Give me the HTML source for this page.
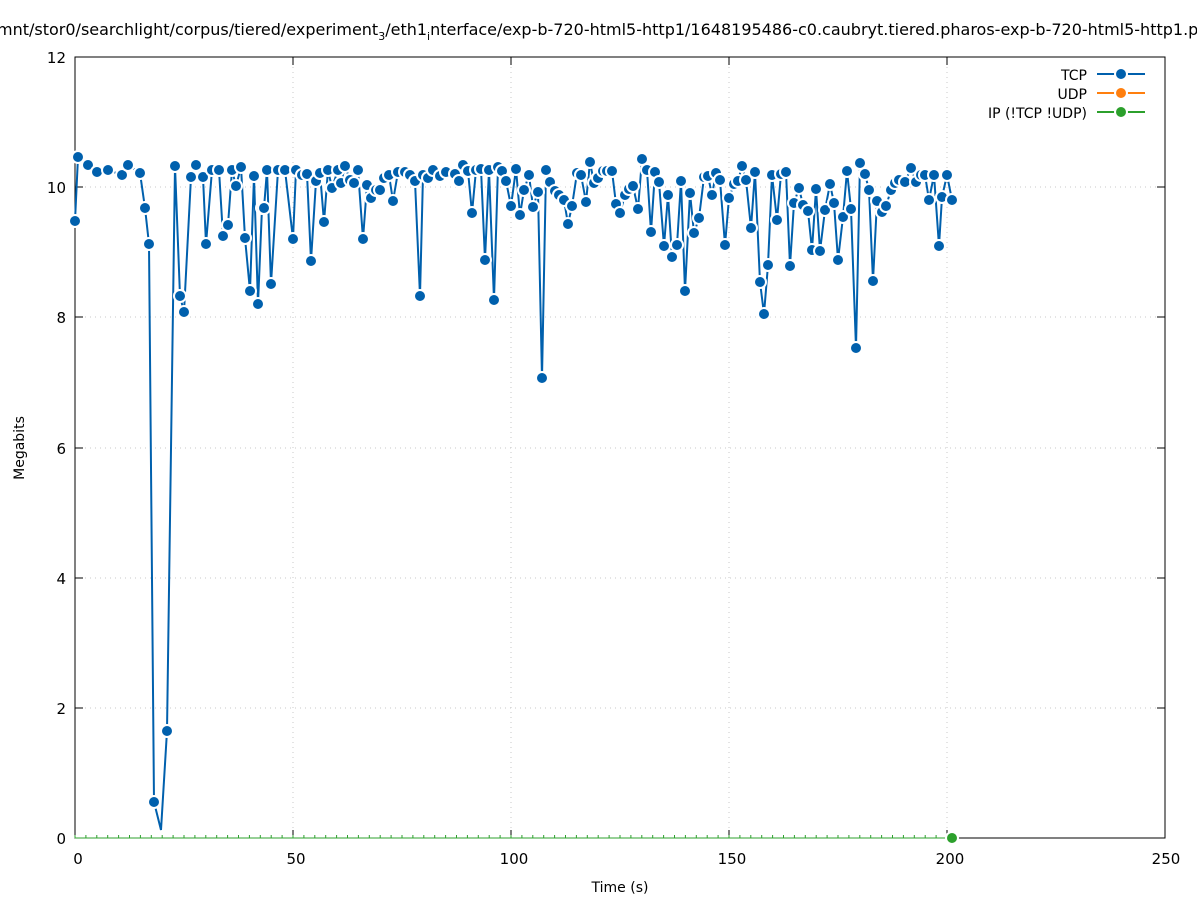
<!DOCTYPE html>
<html><head><meta charset="utf-8"><style>
html,body{margin:0;padding:0;background:#fff;}
svg{display:block;font-family:"DejaVu Sans","Liberation Sans",sans-serif;}
</style></head><body>
<svg id="s" width="1197" height="900" viewBox="0 0 1197 900" xmlns="http://www.w3.org/2000/svg">
<rect width="1197" height="900" fill="#fff"/>
<g stroke="#c8c8c8" stroke-width="1" stroke-dasharray="1,4">
<line x1="75" y1="708" x2="1165" y2="708"/><line x1="75" y1="578" x2="1165" y2="578"/>
<line x1="75" y1="448" x2="1165" y2="448"/><line x1="75" y1="317" x2="1165" y2="317"/>
<line x1="75" y1="187" x2="1165" y2="187"/>
<line x1="293" y1="57" x2="293" y2="838"/><line x1="511" y1="57" x2="511" y2="838"/>
<line x1="729" y1="57" x2="729" y2="838"/><line x1="947" y1="57" x2="947" y2="838"/>
</g>
<rect x="75" y="57" width="1090" height="781" fill="none" stroke="#000" stroke-width="1"/>
<g stroke="#000" stroke-width="1">
<path d="M75 838h8M75 708h8M75 578h8M75 448h8M75 317h8M75 187h8M75 57h8M1165 838h-8M1165 708h-8M1165 578h-8M1165 448h-8M1165 317h-8M1165 187h-8M1165 57h-8"/>
<path d="M293 838v-8M511 838v-8M729 838v-8M947 838v-8M293 57v8M511 57v8M729 57v8M947 57v8"/>
</g>
<g font-size="15" fill="#000" text-anchor="end">
<text x="66" y="844">0</text><text x="66" y="714">2</text><text x="66" y="584">4</text>
<text x="66" y="454">6</text><text x="66" y="323">8</text><text x="66" y="193">10</text><text x="66" y="63">12</text>
</g>
<g font-size="15" fill="#000" text-anchor="middle">
<text x="78" y="864">0</text><text x="296" y="864">50</text><text x="514" y="864">100</text>
<text x="732" y="864">150</text><text x="950" y="864">200</text><text x="1166" y="864">250</text>
<text x="620" y="892" font-size="14">Time (s)</text>
</g>
<text x="0" y="0" font-size="14" transform="translate(24,448) rotate(-90)" text-anchor="middle">Megabits</text>
<text x="-3" y="35" font-size="16">mnt/stor0/searchlight/corpus/tiered/experiment<tspan font-size="11" dy="5">3</tspan><tspan dy="-5">/eth1</tspan><tspan font-size="11" dy="5">i</tspan><tspan dy="-5">nterface/exp-b-720-html5-http1/1648195486-c0.caubryt.tiered.pharos-exp-b-720-html5-http1.pcap</tspan></text>
<g id="gticks" stroke="#2ca02c" stroke-width="1"></g>
<g font-size="14" text-anchor="end">
<text x="1087" y="80">TCP</text><text x="1087" y="99">UDP</text><text x="1087" y="118">IP (!TCP  !UDP)</text>
</g>
<g stroke-width="2">
<line x1="1097" y1="74" x2="1145" y2="74" stroke="#0060ad"/>
<line x1="1097" y1="93" x2="1145" y2="93" stroke="#ff7f0e"/>
<line x1="1097" y1="112" x2="1145" y2="112" stroke="#2ca02c"/>
</g>
<circle cx="1121" cy="74" r="6" fill="#0060ad" stroke="#fff" stroke-width="2"/>
<circle cx="1121" cy="93" r="6" fill="#ff7f0e" stroke="#fff" stroke-width="2"/>
<circle cx="1121" cy="112" r="6" fill="#2ca02c" stroke="#fff" stroke-width="2"/>
<g id="series"></g>
<circle cx="952" cy="838" r="6" fill="#2ca02c" stroke="#fff" stroke-width="2"/>
</svg>
<script>
var P=[[75,221],[78,157],[88,165],[97,172],[108,170],[122,175],[128,165],[140,173],[145,208],[149,244],[154,802],[161,830],[167,731],[175,166],[180,296],[184,312],[191,177],[196,165],[203,177],[206,244],[212,170],[219,170],[223,236],[228,225],[232,170],[236,186],[241,167],[245,238],[250,291],[254,176],[258,304],[262,208],[264,208],[267,170],[271,284],[278,170],[285,170],[293,239],[296,170],[302,175],[307,174],[311,261],[316,181],[320,173],[324,222],[328,170],[332,188],[338,170],[341,183],[345,166],[350,180],[354,183],[358,170],[363,239],[367,185],[371,198],[376,190],[380,190],[384,178],[389,175],[393,201],[398,172],[405,172],[410,175],[415,181],[420,296],[423,175],[428,178],[433,170],[440,176],[446,172],[455,174],[459,181],[463,165],[468,171],[472,213],[476,170],[481,169],[485,260],[489,170],[494,300],[498,167],[502,171],[506,181],[511,206],[516,169],[520,215],[524,190],[529,175],[533,207],[538,192],[542,378],[546,170],[550,182],[555,191],[559,195],[564,200],[568,224],[572,206],[577,173],[581,175],[586,202],[590,162],[594,183],[598,178],[603,171],[607,171],[612,171],[616,204],[620,213],[625,195],[629,189],[633,186],[638,209],[642,159],[647,170],[651,232],[655,172],[659,182],[664,246],[668,195],[672,257],[677,245],[681,181],[685,291],[690,193],[694,233],[699,218],[704,177],[708,176],[712,195],[716,173],[720,180],[725,245],[729,198],[734,184],[738,181],[742,166],[746,180],[751,228],[755,172],[760,282],[764,314],[768,265],[772,175],[777,220],[781,174],[786,172],[790,266],[794,203],[799,188],[803,205],[808,211],[812,250],[816,189],[820,251],[825,210],[830,184],[834,203],[838,260],[843,217],[847,171],[851,209],[856,348],[860,163],[865,174],[869,190],[873,281],[877,201],[882,212],[886,206],[891,190],[895,183],[899,180],[905,182],[911,168],[916,182],[921,175],[925,175],[929,200],[934,175],[939,246],[942,197],[947,175],[952,200]];
var ns="http://www.w3.org/2000/svg",g=document.getElementById("series");
var pl=document.createElementNS(ns,"polyline");
pl.setAttribute("points",P.map(function(p){return p.join(",")}).join(" "));
pl.setAttribute("fill","none");pl.setAttribute("stroke","#0060ad");pl.setAttribute("stroke-width","2");
g.appendChild(pl);
P.forEach(function(p,i){if(i==11)return;var c=document.createElementNS(ns,"circle");c.setAttribute("cx",p[0]);c.setAttribute("cy",p[1]);c.setAttribute("r","6");c.setAttribute("fill","#0060ad");c.setAttribute("stroke","#fff");c.setAttribute("stroke-width","2");g.appendChild(c);});
var gt=document.getElementById("gticks"),d="";
for(var x=75;x<=952;x+=10.9){d+="M"+x.toFixed(1)+" 838v-3";}
var pt=document.createElementNS(ns,"path");pt.setAttribute("d",d);gt.appendChild(pt);
var ln=document.createElementNS(ns,"line");ln.setAttribute("x1",75);ln.setAttribute("x2",952);ln.setAttribute("y1",838);ln.setAttribute("y2",838);gt.appendChild(ln);
</script>
</body></html>
